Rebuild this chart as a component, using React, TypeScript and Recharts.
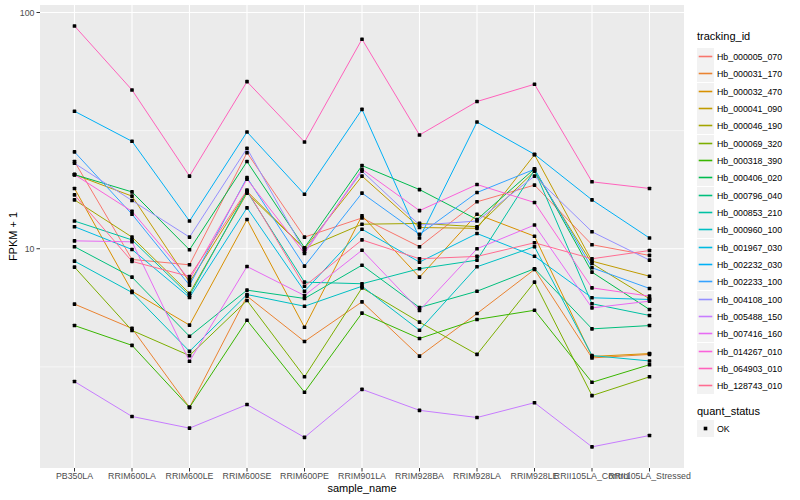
import { LineChart, Line, XAxis, YAxis, CartesianGrid } from "recharts"

const samples = [
  "PB350LA", "RRIM600LA", "RRIM600LE", "RRIM600SE", "RRIM600PE", "RRIM901LA",
  "RRIM928BA", "RRIM928LA", "RRIM928LE", "RRII105LA_Control", "RRII105LA_Stressed",
]

const trackingIds = [
  "Hb_000005_070", "Hb_000031_170", "Hb_000032_470", "Hb_000041_090", "Hb_000046_190",
  "Hb_000069_320", "Hb_000318_390", "Hb_000406_020", "Hb_000796_040", "Hb_000853_210",
  "Hb_000960_100", "Hb_001967_030", "Hb_002232_030", "Hb_002233_100", "Hb_004108_100",
  "Hb_005488_150", "Hb_007416_160", "Hb_014267_010", "Hb_064903_010", "Hb_128743_010",
]

// FPKM + 1, one value per sample
const hb000005_070 = [23.4, 9.01, 8.55, 25.5, 11.2, 13.5, 10.2, 15.8, 18.6, 10.4, 9.37]
const hb000031_170 = [5.83, 4.6, 2.13, 6.3, 4.05, 5.96, 3.51, 5.32, 8.17, 3.45, 3.57]
const hb000032_470 = [18.0, 6.61, 4.75, 13.3, 4.65, 13.8, 7.58, 14.0, 11.3, 3.5, 3.6]
const hb000041_090 = [20.6, 16.7, 7.22, 17.5, 10.0, 20.3, 12.3, 12.2, 25.0, 8.86, 7.65]
const hb000046_190 = [16.1, 11.2, 6.47, 17.2, 10.0, 12.7, 12.8, 12.4, 21.3, 8.66, 6.14]
const hb000069_320 = [8.36, 4.51, 3.53, 6.04, 2.87, 6.83, 4.89, 3.57, 7.22, 2.39, 2.87]
const hb000318_390 = [4.73, 3.9, 2.13, 4.98, 2.47, 5.34, 4.17, 5.02, 5.49, 2.72, 3.23]
const hb000406_020 = [20.6, 17.4, 9.9, 23.4, 10.1, 22.5, 17.8, 13.3, 21.8, 7.96, 5.53]
const hb000796_040 = [10.2, 7.58, 4.26, 6.68, 6.16, 8.52, 5.64, 6.61, 8.23, 4.58, 4.73]
const hb000853_210 = [13.1, 10.9, 6.34, 17.5, 7.22, 7.11, 8.23, 8.95, 21.5, 5.85, 5.22]
const hb000960_100 = [8.86, 6.53, 3.68, 6.4, 5.71, 6.94, 4.52, 8.39, 10.2, 3.53, 3.35]
const hb001967_030 = [12.4, 9.93, 6.22, 14.9, 6.61, 12.1, 8.78, 11.6, 9.3, 6.2, 6.1]
const hb002232_030 = [38.2, 28.5, 13.1, 31.2, 17.0, 38.9, 11.1, 34.4, 25.1, 16.1, 11.1]
const hb002233_100 = [25.7, 14.0, 7.01, 20.0, 8.44, 17.2, 11.5, 17.3, 21.7, 8.31, 6.79]
const hb004108_100 = [23.0, 16.0, 11.2, 26.6, 9.74, 21.3, 12.6, 13.1, 20.3, 11.8, 8.95]
const hb005488_150 = [2.74, 1.95, 1.74, 2.19, 1.59, 2.54, 2.07, 1.93, 2.23, 1.45, 1.62]
const hb007416_160 = [10.8, 10.7, 3.34, 8.41, 6.34, 9.86, 5.48, 10.0, 12.6, 5.62, 6.0]
const hb014267_010 = [20.6, 14.4, 7.41, 19.7, 9.55, 21.7, 14.5, 18.7, 15.7, 6.83, 6.3]
const hb064903_010 = [87.7, 47.0, 20.3, 51.0, 28.3, 77.1, 30.3, 42.0, 49.7, 19.2, 18.0]
const hb128743_010 = [16.9, 8.84, 7.63, 17.7, 6.94, 10.9, 9.07, 9.28, 10.6, 9.07, 9.83]

const seriesValues = [
  hb000005_070, hb000031_170, hb000032_470, hb000041_090, hb000046_190,
  hb000069_320, hb000318_390, hb000406_020, hb000796_040, hb000853_210,
  hb000960_100, hb001967_030, hb002232_030, hb002233_100, hb004108_100,
  hb005488_150, hb007416_160, hb014267_010, hb064903_010, hb128743_010,
]

const colors = [
  "#F8766D", "#EA8331", "#D89000", "#C09B00", "#A3A500", "#7CAE00", "#39B600",
  "#00BB4E", "#00BF7D", "#00C1A3", "#00BFC4", "#00BAE0", "#00B0F6", "#35A2FF",
  "#9590FF", "#C77CFF", "#E76BF3", "#FA62DB", "#FF62BC", "#FF6C91",
]

const xTicks = samples.map((_, i) => i + 1)
const yTicks = [10, 100]
const yMinor = [3.1623, 31.623]

const rows = samples.map((s, i) => {
  const row: Record<string, number | string> = { x: i + 1, sample: s }
  trackingIds.forEach((id, k) => {
    row[id] = seriesValues[k][i]
  })
  return row
})

const font = "'Liberation Sans', Arial, Helvetica, sans-serif"

function SquareDot(props: any) {
  const { cx, cy, index, dataKey } = props
  if (cx == null || cy == null) return null
  return <rect key={`${dataKey}-${index}`} x={cx - 1.8} y={cy - 1.8} width={3.6} height={3.6} rx={0.6} fill="#000" />
}

export default function App() {
  return (
    <div style={{ position: "absolute", left: 0, top: 0, width: 800, height: 500, background: "#fff", fontFamily: font }}>
      <LineChart width={800} height={500} data={rows} margin={{ top: 5, right: 116, bottom: 0, left: 0 }}>
        <CartesianGrid
          fill="#EBEBEB"
          fillOpacity={1}
          stroke="#FFFFFF"
          strokeWidth={1.1}
          horizontalValues={yTicks}
          verticalValues={xTicks}
        />
        <CartesianGrid stroke="#FFFFFF" strokeWidth={0.55} vertical={false} horizontalValues={yMinor} />
        <XAxis
          type="number"
          dataKey="x"
          domain={[0.4, 11.6]}
          ticks={xTicks}
          interval={0}
          tickFormatter={(v: number) => samples[v - 1]}
          height={32}
          axisLine={false}
          tickLine={{ stroke: "#333333" }}
          tickSize={3.5}
          tickMargin={1.5}
          tick={{ fill: "#4D4D4D", fontSize: 8.8, fontFamily: font }}
        />
        <YAxis
          type="number"
          scale="log"
          domain={[1.18, 107.6]}
          allowDataOverflow
          ticks={yTicks}
          width={40}
          axisLine={false}
          tickLine={{ stroke: "#333333" }}
          tickSize={3.5}
          tickMargin={2}
          tick={{ fill: "#4D4D4D", fontSize: 8.8, fontFamily: font }}
        />
        {trackingIds.map((id, k) => (
          <Line
            key={id}
            type="linear"
            dataKey={id}
            stroke={colors[k]}
            strokeWidth={1}
            dot={false}
            activeDot={false}
            isAnimationActive={false}
          />
        ))}
        {trackingIds.map((id) => (
          <Line
            key={id + "-pts"}
            type="linear"
            dataKey={id}
            stroke="none"
            dot={SquareDot}
            activeDot={false}
            isAnimationActive={false}
          />
        ))}
      </LineChart>

      {/* axis titles */}
      <svg width={800} height={500} style={{ position: "absolute", left: 0, top: 0, pointerEvents: "none" }}>
        <text x={362} y={492} textAnchor="middle" fontSize={11} fill="#000" fontFamily={font}>
          sample_name
        </text>
        <text transform="translate(16.5,236.5) rotate(-90)" textAnchor="middle" fontSize={11} fill="#000" fontFamily={font}>
          FPKM + 1
        </text>
      </svg>

      {/* legend */}
      <div style={{ position: "absolute", left: 697, top: 30, fontSize: 11, color: "#000" }}>tracking_id</div>
      {trackingIds.map((id, k) => (
        <div
          key={id}
          style={{ position: "absolute", left: 697, top: Math.round(48 + k * 17.33), height: 17, display: "flex", alignItems: "center" }}
        >
          <svg width={17} height={17} style={{ display: "block" }}>
            <rect x={0} y={0} width={17} height={17} fill="#F2F2F2" />
            <line x1={1.7} x2={15.3} y1={8.5} y2={8.5} stroke={colors[k]} strokeWidth={1.6} />
          </svg>
          <span style={{ marginLeft: 3, fontSize: 8.8, color: "#000", whiteSpace: "nowrap" }}>{id}</span>
        </div>
      ))}
      <div style={{ position: "absolute", left: 697, top: 405, fontSize: 11, color: "#000" }}>quant_status</div>
      <div style={{ position: "absolute", left: 697, top: 420, height: 17, display: "flex", alignItems: "center" }}>
        <svg width={17} height={17} style={{ display: "block" }}>
          <rect x={0} y={0} width={17} height={17} fill="#F2F2F2" />
          <rect x={6.7} y={6.7} width={3.6} height={3.6} fill="#000" />
        </svg>
        <span style={{ marginLeft: 3, fontSize: 8.8, color: "#000" }}>OK</span>
      </div>
    </div>
  )
}
